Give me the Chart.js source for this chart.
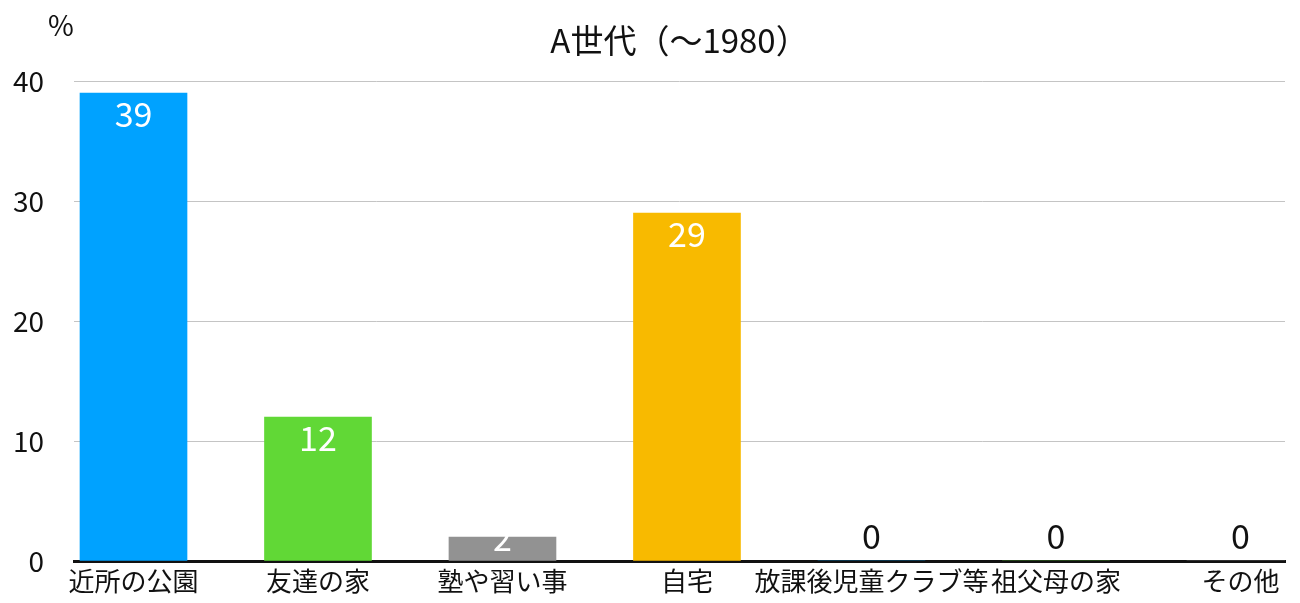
<html>
  <head>
    <meta charset="utf-8" />
    <title>A世代（〜1980）</title>
    <style>
      body {
        margin: 0;
        padding: 0;
        background-color: #ffffff;
      }
      #wrap {
        width: 1300px;
        height: 603px;
      }
    </style>
    <script src="https://cdn.jsdelivr.net/npm/chart.js"></script>
  </head>
  <body>
    <div id="wrap"><canvas id="myChart" width="1300" height="603"></canvas></div>
    <script>
      const titleText = "A世代（〜1980）";
      const unitText = "%";
      const categories = ["近所の公園", "友達の家", "塾や習い事", "自宅", "放課後児童クラブ等", "祖父母の家", "その他"];
      const values = [39, 12, 2, 29, 0, 0, 0];
      const barColors = ["#00A2FF", "#61D836", "#929292", "#F8BA00", "#00A2FF", "#61D836", "#929292"];
      const yTicks = [0, 10, 20, 30, 40];

      const FONT = "'Noto Sans CJK JP', 'Noto Sans', sans-serif";

      // value labels + title + unit, drawn on the canvas
      const extras = {
        id: "extras",
        afterDatasetsDraw(chart) {
          const ctx = chart.ctx;
          const meta = chart.getDatasetMeta(0);
          const base = chart.scales.y.getPixelForValue(0);
          ctx.save();
          ctx.font = "34px " + FONT;
          ctx.textAlign = "center";
          ctx.textBaseline = "middle";
          meta.data.forEach((bar, i) => {
            const v = values[i];
            if (v > 0) {
              ctx.fillStyle = "#ffffff";
              ctx.fillText(String(v), bar.x, Math.min(bar.y + 21, base - 23));
            } else {
              ctx.fillStyle = "#111111";
              ctx.fillText(String(v), bar.x, base - 25);
            }
          });
          const area = chart.chartArea;
          ctx.fillStyle = "#111111";
          ctx.font = "33px " + FONT;
          ctx.fillText(titleText, (area.left + area.right) / 2, 40);
          ctx.font = "28px " + FONT;
          ctx.fillText(unitText, 61, 25);
          ctx.restore();
        },
      };

      const ctx = document.getElementById("myChart").getContext("2d");
      const myChart = new Chart(ctx, {
        type: "bar",
        data: {
          datasets: [
            {
              data: values.map((v, i) => ({ x: i, y: v })),
              backgroundColor: barColors,
              borderWidth: 0,
              barThickness: 107,
            },
          ],
        },
        options: {
          responsive: false,
          animation: false,
          layout: {
            padding: { top: 81, right: 15, left: 0, bottom: 0 },
          },
          plugins: {
            legend: { display: false },
            tooltip: { enabled: false },
          },
          scales: {
            x: {
              type: "linear",
              offset: false,
              min: -0.3225,
              max: 6.2415,
              afterBuildTicks: (scale) => {
                scale.ticks = categories.map((c, i) => ({ value: i }));
              },
              afterFit: (scale) => {
                scale.height = 42;
              },
              grid: { display: false, drawTicks: false },
              border: { display: true, color: "#111111", width: 3 },
              ticks: {
                autoSkip: false,
                maxRotation: 0,
                minRotation: 0,
                padding: 5,
                color: "#111111",
                font: { family: FONT, size: 26 },
                callback: (v) => categories[v],
              },
            },
            y: {
              min: 0,
              max: 40,
              afterBuildTicks: (scale) => {
                scale.ticks = yTicks.map((t) => ({ value: t }));
              },
              afterFit: (scale) => {
                scale.width = 74;
                scale.paddingTop = 0;
                scale.paddingBottom = 0;
              },
              grid: { color: "#c4c4c4", lineWidth: 1, drawTicks: false },
              border: { display: false },
              ticks: {
                padding: 30,
                color: "#111111",
                font: { family: FONT, size: 28 },
              },
            },
          },
        },
        plugins: [extras],
      });
    </script>
  </body>
</html>
